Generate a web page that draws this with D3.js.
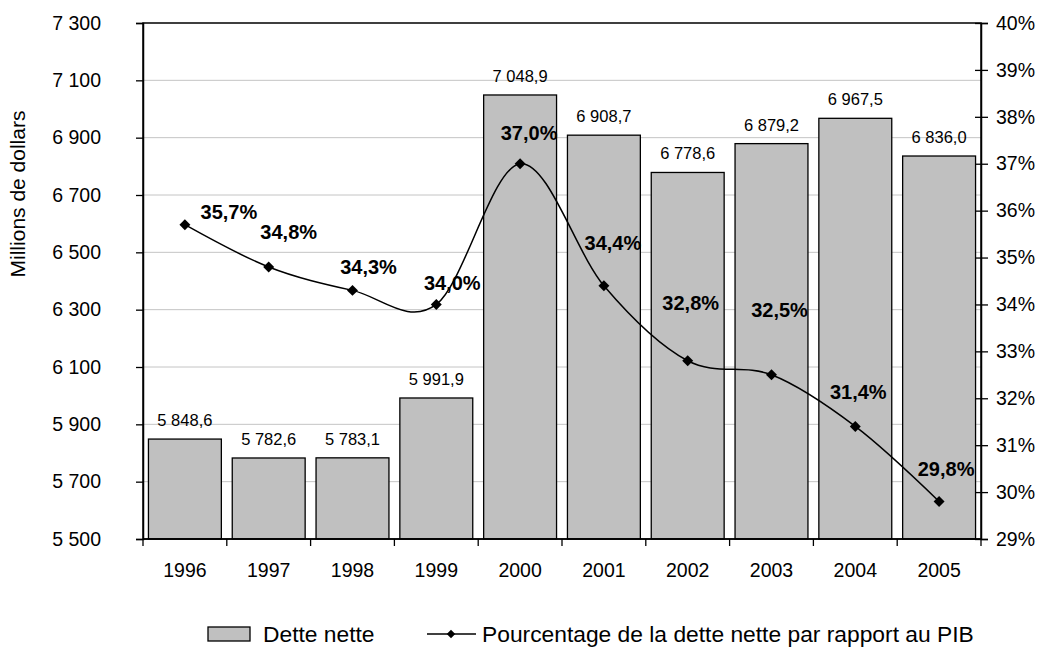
<!DOCTYPE html>
<html>
<head>
<meta charset="utf-8">
<script src="https://cdn.jsdelivr.net/npm/d3@7"></script>
<style>
  html, body { margin: 0; padding: 0; background: #fff; }
  svg { display: block; font-family: "Liberation Sans", Arial, sans-serif; }
</style>
</head>
<body>
<svg id="chart" width="1041" height="652"></svg>
<script>
// Net debt (millions of dollars) and net debt as a share of GDP, 1996-2005
const years = ["1996", "1997", "1998", "1999", "2000", "2001", "2002", "2003", "2004", "2005"];
const netDebt = [5848.6, 5782.6, 5783.1, 5991.9, 7048.9, 6908.7, 6778.6, 6879.2, 6967.5, 6836.0];
const debtToGdp = [35.7, 34.8, 34.3, 34.0, 37.0, 34.4, 32.8, 32.5, 31.4, 29.8];
const leftTicks = [5500, 5700, 5900, 6100, 6300, 6500, 6700, 6900, 7100, 7300];
const rightTicks = [29, 30, 31, 32, 33, 34, 35, 36, 37, 38, 39, 40];
const seriesNames = ["Dette nette", "Pourcentage de la dette nette par rapport au PIB"];

// Hand placement of the percentage labels relative to their markers (px)
const pctLabelShift = [[44, -13], [20, -35], [16, -24], [16, -22], [9, -31], [9, -43], [3, -58], [8, -65], [3, -35], [7, -33]];

const FONT = "'Liberation Sans', Arial, sans-serif";
const fr = d3.formatLocale({ decimal: ",", thousands: "\u00a0", grouping: [3], currency: ["", " $"] });
const fmtInt = fr.format(",d");
const fmtOne = fr.format(",.1f");

const svg = d3.select("#chart");
const m = { left: 143, right: 981, top: 23, bottom: 539 };

const x = d3.scaleBand().domain(years).range([m.left, m.right]).paddingInner(0.13).paddingOuter(0.065);
const xEdge = d3.scaleBand().domain(years).range([m.left, m.right]).padding(0);
const yL = d3.scaleLinear().domain([5500, 7300]).range([m.bottom, m.top]);
const yR = d3.scaleLinear().domain([29, 40]).range([m.bottom, m.top]);

// horizontal gridlines
svg.append("g")
  .selectAll("line")
  .data(leftTicks.slice(1, -1))
  .join("line")
  .attr("x1", m.left).attr("x2", m.right)
  .attr("y1", d => yL(d)).attr("y2", d => yL(d))
  .attr("stroke", "#c4c4c4").attr("stroke-width", 1);

// bars
svg.append("g")
  .selectAll("rect")
  .data(years.map((y, i) => ({ y, v: netDebt[i] })))
  .join("rect")
  .attr("x", d => x(d.y))
  .attr("width", x.bandwidth())
  .attr("y", d => yL(d.v))
  .attr("height", d => yL(5500) - yL(d.v))
  .attr("fill", "#c0c0c0")
  .attr("stroke", "#000")
  .attr("stroke-width", 1.3);

// bar value labels
svg.append("g")
  .selectAll("text")
  .data(years.map((y, i) => ({ y, v: netDebt[i] })))
  .join("text")
  .attr("x", d => x(d.y) + x.bandwidth() / 2)
  .attr("y", d => yL(d.v) - 13)
  .attr("text-anchor", "middle")
  .attr("font-size", 16.5)
  .attr("fill", "#000")
  .text(d => fmtOne(d.v));

// plot frame
svg.append("rect")
  .attr("x", m.left).attr("y", m.top)
  .attr("width", m.right - m.left).attr("height", m.bottom - m.top)
  .attr("fill", "none").attr("stroke", "#000").attr("stroke-width", 1.5);

// left axis
const gL = svg.append("g").attr("transform", `translate(${m.left},0)`)
  .call(d3.axisLeft(yL).tickValues(leftTicks).tickSize(7).tickPadding(35).tickFormat(fmtInt));
gL.select(".domain").attr("stroke", "#000").attr("stroke-width", 1.5);
gL.selectAll(".tick line").attr("stroke", "#000").attr("stroke-width", 1.3);
gL.selectAll(".tick text").attr("font-size", 19.5).attr("font-family", FONT).attr("fill", "#000");

// right axis (ticks crossing the axis line)
const gR = svg.append("g").attr("transform", `translate(${m.right},0)`)
  .call(d3.axisRight(yR).tickValues(rightTicks).tickSize(7).tickPadding(8).tickFormat(d => d + "%"));
gR.select(".domain").attr("stroke", "#000").attr("stroke-width", 1.5);
gR.selectAll(".tick line").attr("x1", -6).attr("stroke", "#000").attr("stroke-width", 1.3);
gR.selectAll(".tick text").attr("font-size", 19.5).attr("font-family", FONT).attr("fill", "#000");

// bottom axis: ticks on the category boundaries, labels at centres
const gB = svg.append("g").attr("transform", `translate(0,${m.bottom})`);
gB.append("line").attr("x1", m.left).attr("x2", m.right).attr("stroke", "#000").attr("stroke-width", 1.5);
gB.selectAll("line.tk")
  .data(years.map(y => xEdge(y)).concat([m.right]))
  .join("line").attr("class", "tk")
  .attr("x1", d => d).attr("x2", d => d).attr("y1", 0).attr("y2", 7)
  .attr("stroke", "#000").attr("stroke-width", 1.3);
gB.selectAll("text")
  .data(years)
  .join("text")
  .attr("x", d => xEdge(d) + xEdge.bandwidth() / 2)
  .attr("y", 38)
  .attr("text-anchor", "middle")
  .attr("font-size", 19.5)
  .text(d => d);

// left axis title
svg.append("text")
  .attr("transform", "translate(25,194) rotate(-90)")
  .attr("text-anchor", "middle")
  .attr("font-size", 21)
  .text("Millions de dollars");

// percentage line
const pts = years.map((y, i) => ({ y, p: debtToGdp[i], cx: x(y) + x.bandwidth() / 2, cy: yR(debtToGdp[i]) }));
const line = d3.line().x(d => d.cx).y(d => d.cy).curve(d3.curveCatmullRom.alpha(0));
svg.append("path")
  .datum(pts)
  .attr("d", line)
  .attr("fill", "none")
  .attr("stroke", "#000")
  .attr("stroke-width", 1.5);

svg.append("g")
  .selectAll("path")
  .data(pts)
  .join("path")
  .attr("transform", d => `translate(${d.cx},${d.cy}) rotate(45)`)
  .attr("d", d3.symbol().type(d3.symbolSquare).size(60))
  .attr("fill", "#000");

svg.append("g")
  .selectAll("text")
  .data(pts)
  .join("text")
  .attr("x", (d, i) => d.cx + pctLabelShift[i][0])
  .attr("y", (d, i) => d.cy + pctLabelShift[i][1])
  .attr("dy", "0.36em")
  .attr("text-anchor", "middle")
  .attr("font-size", 20)
  .attr("font-weight", "bold")
  .text(d => fr.format(".1f")(d.p) + "%");

// legend
const lg = svg.append("g");
lg.append("rect").attr("x", 208).attr("y", 627).attr("width", 42).attr("height", 14)
  .attr("fill", "#c0c0c0").attr("stroke", "#000").attr("stroke-width", 1.3);
lg.append("text").attr("x", 263).attr("y", 634).attr("dy", "0.36em").attr("font-size", 22.8).text(seriesNames[0]);
lg.append("line").attr("x1", 427).attr("x2", 476).attr("y1", 634).attr("y2", 634)
  .attr("stroke", "#000").attr("stroke-width", 1.5);
lg.append("path").attr("transform", "translate(451,634) rotate(45)")
  .attr("d", d3.symbol().type(d3.symbolSquare).size(36)).attr("fill", "#000");
lg.append("text").attr("x", 482).attr("y", 634).attr("dy", "0.36em").attr("font-size", 22.8).text(seriesNames[1]);
</script>
</body>
</html>
